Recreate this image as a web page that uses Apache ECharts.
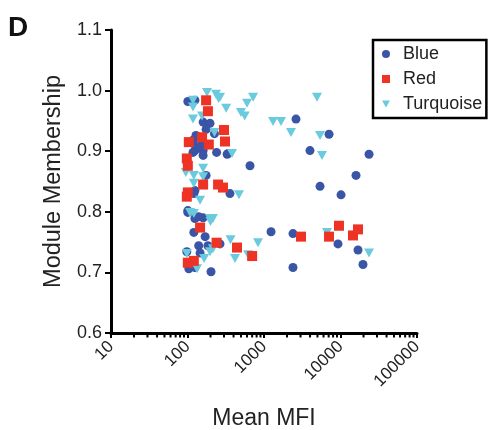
<!DOCTYPE html>
<html>
<head>
<meta charset="utf-8">
<script src="https://cdn.jsdelivr.net/npm/echarts@6/dist/echarts.min.js"></script>
<style>
html,body{margin:0;padding:0;background:#fff;}
#chart{width:493px;height:430px;}
</style>
</head>
<body>
<div id="chart"></div>
<script>
// ---- data (Mean MFI, Module Membership) ----
const blueData = [
  [2620,0.953],[7080,0.928],[3990,0.901],[23600,0.895],[656,0.876],[15950,0.860],
  [5400,0.842],[10160,0.828],[359,0.830],[330,0.895],[1236,0.767],[2394,0.764],
  [9270,0.747],[16940,0.737],[19680,0.713],[2394,0.708],[266,0.747],
  [101,0.982],[125,0.984],[160,0.948],[197,0.946],[175,0.936],[129,0.926],
  [118,0.918],[155,0.915],[125,0.901],[160,0.901],[240,0.898],[225,0.929],
  [338,0.896],[118,0.898],[160,0.893],[175,0.860],[125,0.835],[121,0.830],
  [101,0.802],[160,0.790],[140,0.792],[101,0.799],[125,0.789],[121,0.766],
  [170,0.759],[140,0.744],[185,0.744],[98,0.734],[146,0.732],[104,0.706],
  [125,0.708],[203,0.701],[118,0.913],[146,0.908]
];
const redData = [
  [175,0.984],[185,0.966],[300,0.935],[309,0.916],[104,0.915],[155,0.923],
  [190,0.911],[98,0.888],[101,0.876],[160,0.845],[251,0.845],[291,0.840],
  [101,0.832],[98,0.825],[146,0.774],[240,0.749],[444,0.741],[101,0.716],
  [121,0.719],[700,0.727],[3046,0.759],[7080,0.759],[9550,0.777],[14570,0.761],
  [16940,0.771]
];
const turquoiseData = [
  [266,0.989],[720,0.989],[600,0.979],[320,0.971],[500,0.964],[560,0.958],
  [4930,0.989],[1313,0.949],[1669,0.949],[2253,0.931],[5400,0.926],[382,0.896],
  [5730,0.893],[471,0.828],[180,0.997],[236,0.994],[255,0.987],[118,0.984],
  [118,0.973],[118,0.953],[155,0.958],[225,0.931],[95,0.865],[121,0.860],
  [160,0.872],[160,0.858],[121,0.847],[146,0.819],[121,0.797],[197,0.789],
  [215,0.789],[108,0.799],[200,0.784],[365,0.754],[197,0.734],[215,0.739],
  [165,0.723],[98,0.731],[133,0.706],[418,0.723],[835,0.749],[620,0.729],
  [6660,0.766],[23600,0.732]
];
const seriesNames = ['Blue','Red','Turquoise'];
const xTickLabels = ['10','100','1000','10000','100000'];
const xMinorTicks = [20,30,40,50,60,70,80,90,200,300,400,500,600,700,800,900,
  2000,3000,4000,5000,6000,7000,8000,9000,20000,30000,40000,50000,60000,70000,80000,90000];
const yMin = 0.6, yMax = 1.1, yStep = 0.1;

const FONT = '"Liberation Sans", Arial, Helvetica, sans-serif';
const chart = echarts.init(document.getElementById('chart'), null, {renderer:'canvas'});
const option = {
  animation: false,
  title: {
    text: 'D', left: 3, top: 9,
    textStyle: {fontFamily: FONT, fontWeight: 'bold', fontSize: 28, color: '#111'}
  },
  legend: {
    data: [
      {name: 'Blue', icon: 'circle'},
      {name: 'Red', icon: 'rect'},
      {name: 'Turquoise', icon: 'path://M0,0 L10,0 L5,9 Z'}
    ],
    orient: 'vertical',
    left: 373, top: 40,
    itemWidth: 8, itemHeight: 8, itemGap: 7,
    padding: [5, 4, 5, 9],
    borderColor: '#000', borderWidth: 2.5,
    backgroundColor: '#fff',
    textStyle: {fontFamily: FONT, fontSize: 18, color: '#222', padding: [0,0,0,8]}
  },
  grid: {left: 111, right: 76, top: 30, bottom: 97, containLabel: false, outerBoundsMode: 'none'},
  xAxis: {
    type: 'log', logBase: 10, min: 10, max: 100000,
    name: 'Mean MFI', nameLocation: 'middle', nameGap: 74,
    nameTextStyle: {fontFamily: FONT, fontSize: 23, color: '#222'},
    axisLine: {lineStyle: {color: '#000', width: 3}},
    axisTick: {length: 5, lineStyle: {color: '#000', width: 2}},
    axisLabel: {
      rotate: 45, margin: 11, fontFamily: FONT, fontSize: 17, color: '#222',
      padding: [18, 0, 0, 0],
      formatter: function (v) {
        const i = Math.round(Math.log10(v)) - 1;
        return xTickLabels[i] !== undefined ? xTickLabels[i] : '';
      }
    },
    splitLine: {show: false}
  },
  yAxis: {
    type: 'value', min: yMin, max: yMax, interval: yStep,
    name: 'Module Membership', nameLocation: 'middle', nameGap: 45,
    nameTextStyle: {fontFamily: FONT, fontSize: 23.5, color: '#222'},
    axisLine: {show: true, lineStyle: {color: '#000', width: 3}},
    axisTick: {show: true, length: 6, lineStyle: {color: '#000', width: 2}},
    axisLabel: {
      margin: 9, fontFamily: FONT, fontSize: 18, color: '#222',
      formatter: v => v.toFixed(1)
    },
    splitLine: {show: false}
  },
  series: [
    {
      name: 'Blue', type: 'scatter', data: blueData, z: 2,
      symbol: 'circle', symbolSize: 9,
      itemStyle: {color: '#3a54a6', opacity: 1}
    },
    {
      name: 'Turquoise', type: 'scatter', data: turquoiseData, z: 3,
      symbol: 'path://M0,0 L10,0 L5,9 Z', symbolSize: [10, 9],
      itemStyle: {color: '#6bcbde', opacity: 1}
    },
    {
      name: 'Red', type: 'scatter', data: redData, z: 4,
      symbol: 'rect', symbolSize: 10,
      itemStyle: {color: '#ee3224', opacity: 1}
    },
    {
      name: 'minorTicks', type: 'custom', silent: true, clip: false, z: 5,
      data: xMinorTicks.map(v => [v, yMin]),
      renderItem: function (params, api) {
        const p = api.coord([api.value(0), api.value(1)]);
        return {
          type: 'line',
          shape: {x1: p[0], y1: p[1], x2: p[0], y2: p[1] + 4.5},
          style: {stroke: '#000', lineWidth: 2}
        };
      }
    }
  ]
};
chart.setOption(option);
</script>
</body>
</html>
